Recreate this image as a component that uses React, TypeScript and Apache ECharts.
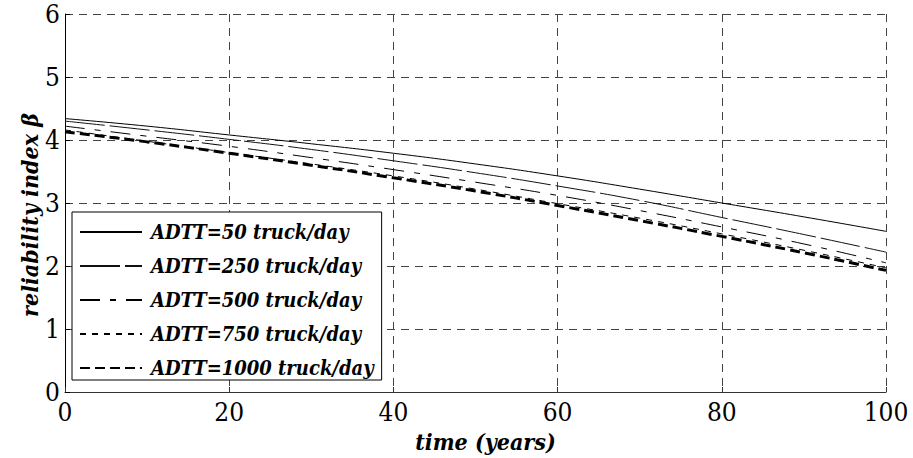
import React, { useEffect, useRef } from "react";
import * as echarts from "echarts";

const years = [0, 10, 20, 30, 40, 50, 60, 70, 80, 90, 100];
const seriesNames = [
  "ADTT=50 truck/day",
  "ADTT=250 truck/day",
  "ADTT=500 truck/day",
  "ADTT=750 truck/day",
  "ADTT=1000 truck/day",
];
const adtt50 = [4.34, 4.22, 4.08, 3.94, 3.79, 3.62, 3.43, 3.22, 3.0, 2.78, 2.55];
const adtt250 = [4.3, 4.16, 4.01, 3.85, 3.67, 3.48, 3.27, 3.04, 2.77, 2.5, 2.22];
const adtt500 = [4.22, 4.06, 3.9, 3.72, 3.53, 3.33, 3.12, 2.88, 2.62, 2.35, 2.05];
const adtt750 = [4.16, 3.98, 3.8, 3.62, 3.43, 3.22, 2.99, 2.76, 2.51, 2.25, 1.97];
const adtt1000 = [4.13, 3.97, 3.79, 3.6, 3.4, 3.19, 2.96, 2.72, 2.47, 2.21, 1.93];

const FONT = "DejaVu Serif Condensed, DejaVu Serif";

export default function App() {
  const ref = useRef<HTMLDivElement>(null);
  useEffect(() => {
    if (!ref.current) return;
    const chart = echarts.init(ref.current, undefined, { renderer: "svg" });
    const allData = [adtt50, adtt250, adtt500, adtt750, adtt1000];
    const styles = [
      { width: 1, type: "solid" as any, color: "#000" },
      { width: 1, type: [40, 5] as any, color: "#111" },
      { width: 1, type: [20, 10, 6, 10] as any, color: "#000" },
      { width: 1, type: [6, 6] as any, color: "#000" },
      { width: 3, type: [10, 5] as any, color: "#000" },
    ];
    chart.setOption({
      animation: false,
      backgroundColor: "#fff",
      grid: { left: 65, right: 27, top: 14, bottom: 66 },
      legend: {
        orient: "vertical",
        left: 72,
        top: 212,
        itemWidth: 62,
        itemHeight: 12,
        itemGap: 14,
        padding: [10, 8, 2, 7],
        borderColor: "#000",
        borderWidth: 1,
        backgroundColor: "#fff",
        itemStyle: { opacity: 0 },
        textStyle: {
          fontFamily: FONT,
          fontStyle: "italic",
          fontWeight: "bold",
          fontSize: 20,
          lineHeight: 20,
          color: "#000",
          padding: [0, 0, 0, 4],
        },
        data: seriesNames,
      },
      xAxis: {
        type: "value",
        min: 0,
        max: 100,
        interval: 20,
        name: "time (years)",
        nameLocation: "middle",
        nameGap: 38,
        nameTextStyle: {
          fontFamily: FONT,
          fontStyle: "italic",
          fontWeight: "bold",
          fontSize: 23,
          color: "#000",
          padding: [0, 0, 0, 20],
        },
        axisLine: { show: true, lineStyle: { color: "#333", width: 1 } },
        axisTick: { show: true, inside: true, length: 5, lineStyle: { color: "#333" } },
        axisLabel: {
          fontFamily: FONT,
          fontSize: 26,
          color: "#000",
          margin: 7,
        },
        splitLine: {
          show: true,
          lineStyle: { color: "#444", type: [8, 6], width: 1 },
        },
      },
      yAxis: {
        type: "value",
        min: 0,
        max: 6,
        interval: 1,
        name: "reliability index β",
        nameLocation: "middle",
        nameGap: 24,
        nameMoveOverlap: false,
        nameRotate: 90,
        nameTextStyle: {
          fontFamily: FONT,
          fontStyle: "italic",
          fontWeight: "bold",
          fontSize: 23,
          color: "#000",
          padding: [0, 24, 0, 0],
        },
        axisLine: { show: true, lineStyle: { color: "#000", width: 1 } },
        axisTick: { show: true, inside: true, length: 5, lineStyle: { color: "#000" } },
        axisLabel: {
          fontFamily: FONT,
          fontSize: 26,
          color: "#000",
          margin: 5,
        },
        splitLine: {
          show: true,
          lineStyle: { color: "#444", type: [8, 6], width: 1 },
        },
      },
      series: seriesNames.map((name, i) => ({
        name,
        type: "line",
        data: years.map((y, j) => [y, allData[i][j]]),
        smooth: true,
        showSymbol: false,
        symbol: "none",
        lineStyle: styles[i],
        itemStyle: { color: "#000" },
        z: 2 + i,
      })),
    });
    return () => chart.dispose();
  }, []);
  return (
    <div
      ref={ref}
      style={{ position: "absolute", left: 0, top: 0, width: 913, height: 458 }}
    />
  );
}
